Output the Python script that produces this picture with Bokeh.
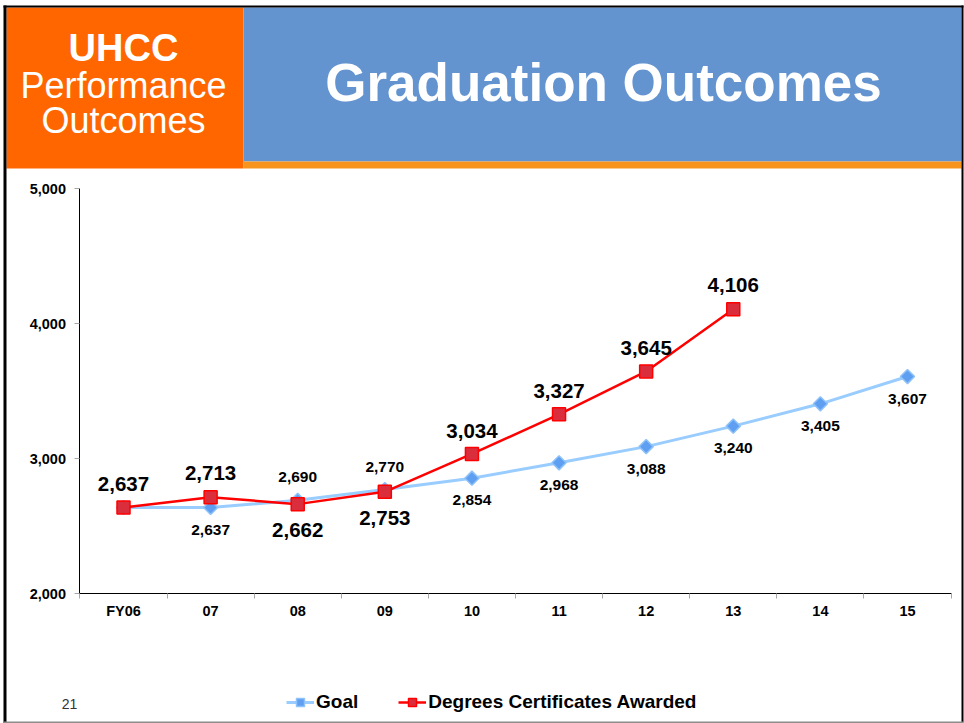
from bokeh.plotting import figure
from bokeh.models import (Range1d, FixedTicker, BoxAnnotation, Label, Legend, LegendItem,
                          ColumnDataSource, NumeralTickFormatter)
from bokeh.core.properties import value
from bokeh.embed import file_html
from bokeh.resources import INLINE

# ---------------- data ----------------
years = ["FY06", "07", "08", "09", "10", "11", "12", "13", "14", "15"]
goal = [2637, 2637, 2690, 2770, 2854, 2968, 3088, 3240, 3405, 3607]
awarded = [2637, 2713, 2662, 2753, 3034, 3327, 3645, 4106]
y_ticks = [2000, 3000, 4000, 5000]
y_min, y_max = 2000, 5000

# label placement (styles): negative = above point, positive = below
goal_label_offsets = [0, 22, -23, -23, 22, 22, 22, 22, 22, 22]
goal_label_show = [False, True, True, True, True, True, True, True, True, True]
awarded_label_offsets = [-24, -24, 26, 26, -23, -23, -23, -24]

FONT = "Liberation Sans"
W, H = 964, 723

# plot area geometry in page pixels (frame covers the whole canvas; axes sit at fixed locations)
PX_LEFT, PX_STEP = 123.0, 87.11      # centre of first category, category width
PY_TOP, PY_BOTTOM = 188.0, 593.0     # pixel rows of y_max and y_min
n = len(years)
per_px_x = 1.0 / PX_STEP
per_px_y = (y_max - y_min) / (PY_BOTTOM - PY_TOP)
x_range = Range1d(-PX_LEFT * per_px_x, (W - PX_LEFT) * per_px_x)
y_range = Range1d(y_min - (H - PY_BOTTOM) * per_px_y, y_max + PY_TOP * per_px_y)

p = figure(width=W, height=H, output_backend="svg", toolbar_location=None,
           x_range=x_range, y_range=y_range,
           min_border_left=0, min_border_right=0, min_border_top=0, min_border_bottom=0,
           background_fill_color="white", border_fill_color="white")
p.outline_line_color = None
p.grid.visible = False

xs_goal = list(range(len(goal)))
xs_aw = list(range(len(awarded)))

# ---------------- axes ----------------
xa = p.xaxis[0]
xa.fixed_location = y_min
xa.bounds = (-0.5, n - 0.5)
xa.ticker = FixedTicker(ticks=xs_goal, minor_ticks=[i - 0.5 for i in range(n + 1)])
xa.major_label_overrides = {i: y for i, y in enumerate(years)}
xa.major_tick_line_color = None
xa.major_tick_out = 0
xa.major_tick_in = 0
xa.minor_tick_line_color = "#A6A6A6"
xa.minor_tick_out = 5
xa.minor_tick_in = 0
xa.axis_line_color = "black"
xa.major_label_text_font = FONT
xa.major_label_text_font_style = "bold"
xa.major_label_text_font_size = "14.5px"
xa.major_label_text_color = "black"
xa.major_label_standoff = 4

ya = p.yaxis[0]
ya.fixed_location = -0.5
ya.bounds = (y_min, y_max)
ya.ticker = FixedTicker(ticks=y_ticks, minor_ticks=[])
ya.formatter = NumeralTickFormatter(format="0,0")
ya.major_tick_line_color = "#A6A6A6"
ya.major_tick_out = 5
ya.major_tick_in = 0
ya.minor_tick_line_color = None
ya.axis_line_color = "black"
ya.major_label_text_font = FONT
ya.major_label_text_font_style = "bold"
ya.major_label_text_font_size = "14.5px"
ya.major_label_text_color = "black"
ya.major_label_standoff = 9

# ---------------- header / slide decoration (screen units, top-left pixel boxes) ----------------
def box(x0, y0, x1, y1, color):
    p.add_layout(BoxAnnotation(left=x0, right=x1, top=H - y0, bottom=H - y1,
                               left_units="screen", right_units="screen",
                               top_units="screen", bottom_units="screen",
                               fill_color=color, fill_alpha=1, line_color=None, level="underlay"))

box(6, 7, 243, 168, "#FF6600")        # orange block
box(243, 7, 961, 161, "#6494D0")      # blue banner
box(243, 161, 961, 168, "#F7941E")    # orange strip
box(3, 5, 963, 7, "black")            # slide border top
box(3, 5, 6, 723, "black")            # left
box(961, 5, 963, 722, "black")        # right
box(3, 721, 963, 723, "#8C8C8C")      # bottom

def label(text, x, y, size, style, color="white"):
    p.add_layout(Label(x=x, y=H - y, x_units="screen", y_units="screen", text=text,
                       text_font=FONT, text_font_size=size, text_font_style=style,
                       text_color=color, text_align="center", text_baseline="middle"))

label("UHCC", 123, 47, "38px", "bold")
label("Performance", 123, 85, "36px", "normal")
label("Outcomes", 123, 120, "36px", "normal")
label("Graduation Outcomes", 603, 82, "53px", "bold")
label("21", 69, 703, "14px", "normal", color="#333333")

# ---------------- series ----------------
g_line = p.line(xs_goal, goal, line_color="#99CCFF", line_width=3)
g_mark = p.scatter(xs_goal, goal, marker="square", angle=0.785398, size=10,
                   fill_color="#5E9FF2", line_color="#8EC2F8", line_width=1.5)
a_line = p.line(xs_aw, awarded, line_color="#FF0000", line_width=2.5)
a_mark = p.scatter(xs_aw, awarded, marker="square", size=13,
                   fill_color="#DA2E3C", line_color="#FF0000", line_width=1.5)

g_src = ColumnDataSource(dict(
    x=[x for x, s in zip(xs_goal, goal_label_show) if s],
    y=[v for v, s in zip(goal, goal_label_show) if s],
    t=[f"{v:,}" for v, s in zip(goal, goal_label_show) if s],
    o=[o for o, s in zip(goal_label_offsets, goal_label_show) if s]))
p.text(x="x", y="y", text="t", y_offset="o", source=g_src, text_font=value(FONT),
       text_font_style="bold", text_font_size="15.5px", text_color="black",
       text_align="center", text_baseline="middle")

a_src = ColumnDataSource(dict(x=xs_aw, y=awarded, t=[f"{v:,}" for v in awarded],
                              o=awarded_label_offsets))
p.text(x="x", y="y", text="t", y_offset="o", source=a_src, text_font=value(FONT),
       text_font_style="bold", text_font_size="20.5px", text_color="black",
       text_align="center", text_baseline="middle")

# ---------------- legend ----------------
legend = Legend(items=[LegendItem(label="Goal", renderers=[g_line, g_mark]),
                       LegendItem(label="Degrees Certificates Awarded", renderers=[a_line, a_mark])],
                location=(286, H - 713), orientation="horizontal",
                label_text_font=FONT, label_text_font_style="bold", label_text_font_size="19px",
                label_text_color="black", glyph_width=28, glyph_height=20, label_height=20,
                label_standoff=2, spacing=40, padding=0, margin=0,
                border_line_color=None, background_fill_alpha=0)
p.add_layout(legend, "center")

open("out.html", "w").write(file_html(p, INLINE))
